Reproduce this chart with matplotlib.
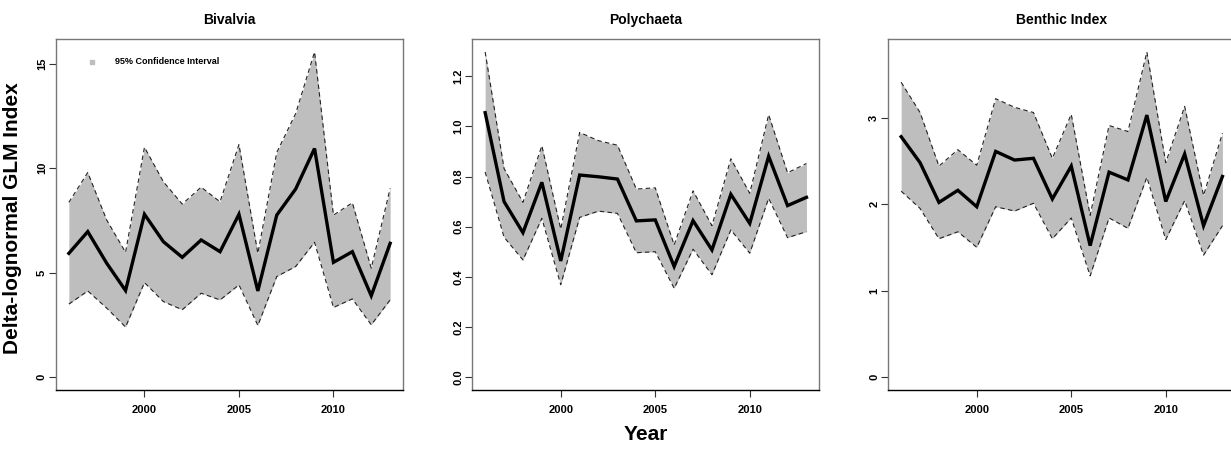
import matplotlib
matplotlib.use("Agg")
import matplotlib.pyplot as plt
import numpy as np

plt.rcParams['font.family'] = ['Liberation Sans', 'DejaVu Sans']
plt.rcParams['font.weight'] = 'bold'

years = list(range(1996, 2014))

biv_mean = [5.92, 6.96, 5.45, 4.14, 7.79, 6.48, 5.73, 6.56, 6.00, 7.79, 4.12, 7.75, 9.00, 10.94, 5.49, 6.00, 3.89, 6.40]
biv_upper = [8.36, 9.79, 7.52, 5.97, 11.00, 9.35, 8.28, 9.09, 8.39, 11.13, 5.92, 10.75, 12.61, 15.56, 7.75, 8.34, 5.21, 9.03]
biv_lower = [3.49, 4.12, 3.30, 2.39, 4.52, 3.61, 3.22, 4.01, 3.69, 4.41, 2.47, 4.81, 5.29, 6.45, 3.33, 3.74, 2.50, 3.69]

pol_mean = [1.055, 0.700, 0.576, 0.777, 0.463, 0.806, 0.799, 0.790, 0.623, 0.627, 0.441, 0.624, 0.507, 0.729, 0.613, 0.881, 0.684, 0.717]
pol_upper = [1.297, 0.832, 0.697, 0.923, 0.590, 0.976, 0.943, 0.925, 0.750, 0.755, 0.527, 0.743, 0.604, 0.871, 0.733, 1.047, 0.815, 0.852]
pol_lower = [0.818, 0.558, 0.467, 0.633, 0.368, 0.637, 0.662, 0.653, 0.496, 0.500, 0.354, 0.510, 0.408, 0.587, 0.494, 0.713, 0.556, 0.580]

ben_mean = [2.78, 2.48, 2.02, 2.16, 1.97, 2.61, 2.51, 2.53, 2.06, 2.44, 1.52, 2.37, 2.28, 3.03, 2.03, 2.58, 1.75, 2.32]
ben_upper = [3.41, 3.06, 2.44, 2.63, 2.45, 3.22, 3.12, 3.06, 2.53, 3.04, 1.87, 2.91, 2.84, 3.76, 2.48, 3.13, 2.10, 2.82]
ben_lower = [2.15, 1.95, 1.60, 1.68, 1.50, 1.97, 1.92, 2.01, 1.60, 1.84, 1.17, 1.84, 1.72, 2.31, 1.59, 2.04, 1.41, 1.75]

titles = ["Bivalvia", "Polychaeta", "Benthic Index"]
yticks_list = [[0, 5, 10, 15], [0.0, 0.2, 0.4, 0.6, 0.8, 1.0, 1.2], [0, 1, 2, 3]]
ytick_labels = [["0", "5", "10", "15"], ["0.0", "0.2", "0.4", "0.6", "0.8", "1.0", "1.2"], ["0", "1", "2", "3"]]
xticks = [2000, 2005, 2010]
xtick_labels = ["2000", "2005", "2010"]

series = [(biv_mean, biv_upper, biv_lower), (pol_mean, pol_upper, pol_lower), (ben_mean, ben_upper, ben_lower)]

W, H = 1231, 449
fig = plt.figure(figsize=(W / 100, H / 100), dpi=100)
lefts = [56, 472.3, 888.3]
aw, ah = 347, 351
atop = 39

for i, (m, u, l) in enumerate(series):
    ax = fig.add_axes([lefts[i] / W, 1 - (atop + ah) / H, aw / W, ah / H])
    ax.fill_between(years, l, u, color='#BEBEBE', linewidth=0, zorder=1)
    ax.plot(years, u, color='#222222', lw=0.8, ls=(0, (4, 3)), zorder=2)
    ax.plot(years, l, color='#222222', lw=0.8, ls=(0, (4, 3)), zorder=2)
    ax.plot(years, m, color='black', lw=2.4, zorder=3, solid_joinstyle='miter')
    ymax = max(u)
    pad = 0.04 * ymax
    ax.set_ylim(-pad, ymax + pad)
    xr = years[-1] - years[0]
    ax.set_xlim(years[0] - 0.04 * xr, years[-1] + 0.04 * xr)
    ax.set_yticks(yticks_list[i])
    ax.set_yticklabels(ytick_labels[i], rotation=90, va='center', fontsize=8, fontweight='bold')
    ax.set_xticks(xticks)
    ax.set_xticklabels(xtick_labels, fontsize=8, fontweight='bold')
    ax.tick_params(axis='both', length=5, width=0.8, color='#333333')
    ax.tick_params(axis='y', pad=1.5)
    ax.tick_params(axis='x', pad=6)
    for s in ['top', 'left', 'right']:
        ax.spines[s].set_color('#777777')
        ax.spines[s].set_linewidth(1.0)
    ax.spines['bottom'].set_color('black')
    ax.spines['bottom'].set_linewidth(1.0)
    ax.set_title(titles[i], fontsize=10, fontweight='bold', pad=11)
    if i == 0:
        ax.set_ylabel("Delta-lognormal GLM Index", fontsize=15, fontweight='bold')
        ax.yaxis.set_label_coords(-0.099, 0.49)
        ax.plot([0.105], [0.935], marker='s', ms=3.5, color='#BEBEBE', transform=ax.transAxes, ls='none')
        ax.text(0.17, 0.935, "95% Confidence Interval", transform=ax.transAxes, fontsize=6.5,
                fontweight='bold', va='center', ha='left')
    if i == 1:
        ax.set_xlabel("Year", fontsize=15, fontweight='bold', labelpad=7)

fig.savefig("out.png", dpi=100)
